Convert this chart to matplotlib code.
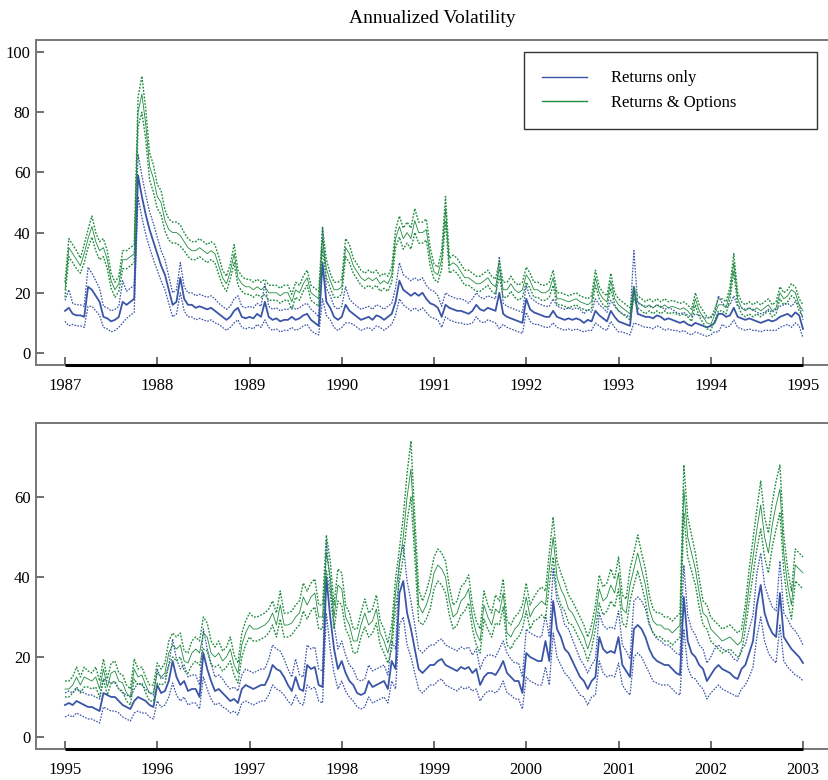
import numpy as np
import matplotlib
matplotlib.use("Agg")
import matplotlib.pyplot as plt

plt.rcParams['font.family'] = ['Liberation Serif', 'DejaVu Serif']

# half-monthly readings (24 per year), 1987-1995 and 1995-2003
top_years = [1987, 1995]
bot_years = [1995, 2003]

# ---- top panel: returns only (blue) ----
top_blue = [
    14, 15, 13, 12.5, 12.5, 12, 22, 21, 19, 17, 12, 11.5, 10.5, 11, 12, 17, 16, 17, 18, 59, 52, 46, 41, 37,
    33, 29, 26, 21, 16, 17, 25, 18, 16, 16, 15, 15.5, 15, 14.5, 15, 14, 13, 12, 11, 12, 14, 15, 12, 11.5,
    12, 11.5, 13, 12, 17, 12, 11, 11.5, 10.5, 11, 11, 12, 11, 11.5, 12.5, 13, 11, 10, 9, 30, 17, 15, 12, 11,
    12, 16, 14, 13, 12, 11, 11.5, 12, 11, 12.5, 12, 11, 12, 13, 17, 24, 21, 20, 19, 20, 19, 20, 18, 16.5,
    16, 15, 12, 16, 15, 14.5, 14, 14, 13.5, 13, 14, 16, 14.5, 14, 15, 14.5, 14, 20, 13, 12, 11.5, 11, 10.5, 10,
    18, 14.5, 13.5, 13, 12.5, 12, 12, 14, 12, 11.5, 11, 11.5, 11, 11.5, 11, 10, 11, 10.5, 14, 12.5, 11.5, 10.5, 14, 12,
    10.5, 10, 9.5, 9, 22, 13, 12.5, 12, 12, 11.5, 12.5, 12, 11, 11.5, 11, 10.5, 10, 10.5, 9.5, 9, 10, 9.5, 9, 8.5,
    9, 10, 13, 13, 12, 12.5, 15, 12, 11.5, 11, 11.5, 11, 10.5, 10, 10.5, 11, 10.5, 11, 12, 12.5, 13, 12, 13.5, 12.5,
    8]
top_blue_band = [
    3.5, 6, 3.5, 3.5, 3.5, 3.5, 6.5, 5.5, 5, 4.5, 3.5, 3.5, 3.5, 3.5, 3.5, 7, 4.5, 4.5, 4.5, 7, 7, 6.5, 6, 6,
    5.5, 5, 5, 4.5, 4, 4, 5, 4, 4, 4, 4, 4, 4, 4, 4, 4, 3.5, 3.5, 3.5, 3.5, 4, 4, 3.5, 3.5,
    3.5, 3.5, 3.5, 3.5, 6, 3.5, 3.5, 3.5, 3.5, 3.5, 3.5, 3.5, 3.5, 3.5, 3.5, 3.5, 3.5, 3.5, 3, 12, 4.5, 4, 3.5, 3.5,
    3.5, 6, 4, 3.5, 3.5, 3.5, 3.5, 3.5, 3.5, 3.5, 3.5, 3.5, 3.5, 3.5, 4.5, 6, 5, 5, 5, 5, 5, 5, 4.5, 4.5,
    4.5, 4, 3.5, 4, 4, 4, 4, 4, 4, 3.5, 4, 4, 4, 4, 4, 4, 4, 12, 3.5, 3.5, 3.5, 3.5, 3.5, 3.5,
    4.5, 4, 4, 3.5, 3.5, 3.5, 3.5, 4, 3.5, 3.5, 3.5, 3.5, 3.5, 3.5, 3.5, 3, 3.5, 3, 4, 3.5, 3.5, 3, 3.5, 3.5,
    3.5, 3, 3, 3, 12, 3.5, 3.5, 3.5, 3.5, 3.5, 3.5, 3.5, 3.5, 3.5, 3.5, 3, 3, 3, 3, 3, 3, 3, 3, 3,
    3, 3, 6, 3.5, 3.5, 3.5, 4, 3.5, 3.5, 3.5, 3.5, 3.5, 3, 3, 3, 3.5, 3, 3.5, 3.5, 3.5, 3.5, 3.5, 3.5, 3.5,
    3]

# ---- top panel: returns & options (green) ----
top_green = [
    21, 35, 33, 31, 29, 33, 38, 42, 37, 34, 35, 31, 24, 21, 23, 31, 31, 32, 33, 80, 86, 76, 62, 58,
    52, 50, 44, 41, 40, 40, 39, 37, 35, 34, 34, 35, 34, 33, 34, 33, 29, 25, 23, 27, 33, 25, 23, 22,
    22, 21, 22, 21, 22, 20, 20, 20, 19, 20, 20, 17, 21, 20, 23, 25, 20, 19, 18, 38, 28, 24, 21, 21,
    22, 35, 33, 29, 27, 25, 24, 25, 24, 25, 23, 24, 23, 26, 38, 42, 38, 40, 38, 44, 40, 40, 41, 32,
    27, 26, 31, 48, 29, 30, 29, 27, 25, 25, 24, 23, 23, 24, 25, 23, 22, 28, 21, 21, 23, 21, 20, 21,
    26, 24, 21, 21, 20, 20, 21, 25, 18, 18, 17.5, 17, 17.5, 18, 17, 16.5, 16, 17, 25, 20, 18, 17, 24, 18,
    16, 15, 14, 13, 20, 17, 16, 15, 16, 15, 16, 15, 16, 15, 15.5, 15, 14.5, 15, 14, 12.5, 18, 14, 12, 10,
    9.5, 12.5, 16, 16, 15, 20, 30, 18, 15, 14, 15, 14, 15, 14, 15, 16, 14, 15, 20, 18, 19, 21, 20, 16,
    14]
top_green_band = [
    2.5, 3, 3, 3, 2.5, 3, 3, 3.5, 3, 3, 3, 3, 2.5, 2.5, 2.5, 3, 3, 3, 3, 5, 6, 5, 4.5, 4.5,
    4, 4, 3.5, 3.5, 3.5, 3.5, 3.5, 3, 3, 3, 3, 3, 3, 3, 3, 3, 3, 2.5, 2.5, 2.5, 3, 2.5, 2.5, 2.5,
    2.5, 2.5, 2.5, 2.5, 2.5, 2.5, 2.5, 2.5, 2.5, 2.5, 2.5, 2.5, 2.5, 2.5, 2.5, 2.5, 2.5, 2.5, 2.5, 3.5, 3, 2.5, 2.5, 2.5,
    2.5, 3, 3, 2.5, 2.5, 2.5, 2.5, 2.5, 2.5, 2.5, 2.5, 2.5, 2.5, 2.5, 3, 3.5, 3.5, 3.5, 3.5, 4, 3.5, 3.5, 3.5, 3,
    2.5, 2.5, 3, 4, 2.5, 2.5, 2.5, 2.5, 2.5, 2.5, 2.5, 2.5, 2.5, 2.5, 2.5, 2.5, 2.5, 2.5, 2.5, 2.5, 2.5, 2.5, 2.5, 2.5,
    2.5, 2.5, 2.5, 2.5, 2.5, 2.5, 2.5, 2.5, 2, 2, 2, 2, 2, 2, 2, 2, 2, 2, 2.5, 2, 2, 2, 2.5, 2,
    2, 2, 2, 2, 2, 2, 2, 2, 2, 2, 2, 2, 2, 2, 2, 2, 2, 2, 2, 2, 2, 2, 2, 2,
    2, 2, 2, 2, 2, 2, 3, 2, 2, 2, 2, 2, 2, 2, 2, 2, 2, 2, 2, 2, 2, 2, 2, 2,
    2]

# ---- bottom panel: returns only (blue) ----
bot_blue = [
    8, 8.5, 8, 9, 8.5, 8, 7.5, 7.5, 7, 6.5, 11, 10.5, 10, 10, 9, 8, 7.5, 7, 9, 10, 9.5, 9, 8, 7.5,
    13, 11, 11.5, 14, 19, 15, 13, 14, 11.5, 12, 12, 10, 21, 17, 14, 11.5, 12, 11, 10, 9, 9.5, 8.5, 12, 13,
    12.5, 12, 12.5, 13, 13, 15, 18, 17, 16.5, 15, 13, 11.5, 15, 12, 11.5, 18, 17, 17.5, 13, 12.5, 40, 30, 22, 17,
    19, 16, 14, 13, 11, 10.5, 11, 14, 12.5, 13, 13.5, 14, 12, 19, 17, 36, 39, 31, 27, 22, 17, 16, 17, 18,
    18, 19, 19.5, 18, 17.5, 17, 16.5, 17.5, 17, 17.5, 16, 17, 13, 15, 16, 16, 15.5, 17, 19, 16, 15, 14, 14, 11,
    21, 20, 19.5, 19, 19, 24, 19, 34, 27, 25, 22, 21, 19, 17, 15, 14, 12, 14, 15, 25, 22, 21, 21.5, 21,
    25, 18, 16.5, 15, 27, 28, 27, 25, 22, 20, 19, 18.5, 18, 18, 17, 16, 15.5, 35, 24, 21, 20, 18, 17, 14,
    15.5, 17, 18, 17, 16.5, 16, 15, 14.5, 17, 18, 21, 24, 33, 38, 31, 28, 26, 25, 36, 25, 23.5, 22, 21, 20,
    18.5]
bot_blue_band = [
    3, 3, 3, 3, 3, 3, 3, 3, 3, 3, 3.5, 3.5, 3.5, 3.5, 3, 3, 3, 3, 3, 3.5, 3.5, 3, 3, 3,
    4, 3.5, 3.5, 4, 5.5, 4.5, 4, 4, 3.5, 3.5, 3.5, 3, 6, 5, 4.5, 3.5, 3.5, 3.5, 3, 3, 3, 3, 3.5, 4,
    4, 4, 4, 4, 4, 4.5, 5, 5, 5, 4.5, 4, 3.5, 4.5, 3.5, 3.5, 5, 5, 5, 4, 4, 9, 8, 6, 5,
    5, 4.5, 4, 4, 3.5, 3.5, 3.5, 4, 4, 4, 4, 4, 3.5, 5, 5, 8, 9, 8, 7, 6, 5, 5, 5, 5,
    5, 5, 5, 5, 5, 5, 5, 5, 5, 5, 4.5, 5, 4, 4.5, 4.5, 4.5, 4.5, 5, 5, 5, 4.5, 4.5, 4.5, 4,
    6, 6, 6, 6, 6, 6.5, 6, 8, 7, 7, 6, 6, 5.5, 5, 4.5, 4, 4, 4, 4.5, 6, 6, 6, 6, 6,
    6.5, 5, 5, 4.5, 7, 7, 7, 7, 6, 6, 5.5, 5.5, 5, 5, 5, 5, 5, 8, 6.5, 6, 5.5, 5, 5, 4.5,
    4.5, 5, 5, 5, 5, 5, 4.5, 4.5, 5, 5, 6, 6.5, 8, 8, 7, 7, 6.5, 6.5, 8, 6, 6, 5.5, 5.5, 5,
    4.5]

# ---- bottom panel: returns & options (green) ----
bot_green = [
    12, 12, 13, 15, 13, 15, 14.5, 14, 15, 12, 17, 12.5, 16, 16.5, 14, 13.5, 11, 10, 17, 15, 15.5, 13, 11, 11,
    16, 15, 16, 21, 23, 22, 23, 19, 18.5, 21, 22, 21, 26, 25, 21, 20, 21, 19, 20, 22, 18, 16, 23, 26,
    28, 27, 27, 27.5, 28, 29, 31, 28, 33, 28, 28, 28.5, 30, 31, 35, 33, 35, 36, 30, 30, 46, 40, 30, 38,
    37, 30, 28, 24, 24, 28, 31, 28, 29, 32, 26, 24, 21, 25, 36, 43, 50, 60, 67, 50, 33, 31, 33, 36,
    41, 43, 42, 40, 34, 30, 31, 34, 35, 37, 30, 26, 24, 33, 30, 28, 32, 31, 36, 26, 25, 27, 28, 30,
    35, 30, 32, 33, 34, 33, 42, 50, 40, 37, 35, 32, 31, 29, 27, 25, 22, 25, 30, 37, 34, 35, 38, 36,
    41, 32, 31, 38, 42, 46, 42, 38, 32, 29, 28, 28, 27, 27, 26, 27, 28, 62, 50, 46, 42, 36, 31, 30,
    27, 26, 25, 24, 24.5, 25, 24, 23, 24, 30, 38, 45, 52, 58, 50, 46, 53, 58, 62, 46, 38, 33, 43, 42,
    41]
bot_green_band = [
    2, 2, 2, 2.5, 2, 2.5, 2, 2, 2.5, 2, 2.5, 2, 2.5, 2.5, 2, 2, 2, 2, 2.5, 2, 2, 2, 2, 2,
    2.5, 2, 2.5, 3, 3, 3, 3, 2.5, 2.5, 3, 3, 3, 4, 3.5, 3, 2.5, 3, 2.5, 2.5, 3, 2.5, 2.5, 3, 3,
    3, 3, 3, 3, 3, 3, 3, 3, 3.5, 3, 3, 3, 3, 3, 3.5, 3.5, 3.5, 3.5, 3, 3, 4.5, 4, 3, 4,
    4, 3, 3, 3, 3, 3, 3.5, 3, 3, 3.5, 3, 3, 2.5, 3, 3.5, 4, 5, 6, 7, 5, 4, 3, 3.5, 4,
    4, 4, 4, 4, 3.5, 3, 3, 3.5, 3.5, 3.5, 3, 3, 3, 3.5, 3, 3, 3.5, 3, 3.5, 3, 3, 3, 3, 3,
    3.5, 3, 3, 3.5, 3.5, 3.5, 4, 5, 4, 4, 3.5, 3.5, 3, 3, 3, 3, 3, 3, 3, 3.5, 3.5, 3.5, 4, 3.5,
    4, 3.5, 3.5, 4, 4, 4.5, 4, 4, 3.5, 3, 3, 3, 3, 3, 3, 3, 3, 6, 5, 4.5, 4, 3.5, 3, 3,
    3, 3, 3, 3, 3, 3, 3, 3, 3, 3, 4, 4.5, 5, 6, 5, 5, 5.5, 6, 6, 4.5, 4, 3.5, 4, 4,
    4]

BLUE = '#3a55a8'
GREEN = '#1f8b3f'
SPINE = '#555555'

fig = plt.figure(figsize=(8.29, 7.80), dpi=100)
ax1 = fig.add_axes([36 / 829, 1 - 365 / 780, 1 - 36 / 829, 325 / 780])
ax2 = fig.add_axes([36 / 829, 1 - 749 / 780, 1 - 36 / 829, 326 / 780])

panels = [
    (ax1, top_years, top_blue, top_blue_band, top_green, top_green_band, (-4, 104), [0, 20, 40, 60, 80, 100]),
    (ax2, bot_years, bot_blue, bot_blue_band, bot_green, bot_green_band, (-3, 78.5), [0, 20, 40, 60]),
]

for ax, yrs, b, bw, g, gw, ylim, yt in panels:
    t = yrs[0] + np.arange(len(b)) / 24.0
    b, bw, g, gw = map(np.asarray, (b, bw, g, gw))

    ax.plot(t, b + bw, color=BLUE, lw=0.9, ls=(0, (1.3, 1.1)))
    ax.plot(t, b - bw, color=BLUE, lw=0.9, ls=(0, (1.3, 1.1)))
    lb, = ax.plot(t, b, color=BLUE, lw=1.3)
    ax.plot(t, g + gw, color=GREEN, lw=1.0, ls=(0, (1.3, 1.1)))
    ax.plot(t, g - gw, color=GREEN, lw=1.0, ls=(0, (1.3, 1.1)))
    lg, = ax.plot(t, g, color=GREEN, lw=0.6)

    ax.set_xlim(yrs[0] - 29 / 92.25, yrs[0] - 29 / 92.25 + 793 / 92.25)
    ax.set_ylim(*ylim)
    ax.set_yticks(yt)
    ax.set_xticks(range(yrs[0], yrs[1] + 1))
    ax.tick_params(direction='in', length=6, width=1.2, color=SPINE, labelsize=12)
    ax.tick_params(axis='x', pad=9)
    ax.tick_params(axis='y', pad=4)
    ax.spines['right'].set_visible(False)
    for s in ('top', 'left', 'bottom'):
        ax.spines[s].set_color('#777777')
        ax.spines[s].set_linewidth(1.4)
    # dark baseline between first and last year tick
    ax.plot([yrs[0], yrs[1]], [ylim[0], ylim[0]], color='black', lw=2.2, clip_on=False,
            solid_capstyle='butt', zorder=5)

ax1.set_title('Annualized Volatility', fontsize=14, pad=12)

leg = ax1.legend([lb, lg], ['Returns only', 'Returns & Options'],
                 loc='upper left', bbox_to_anchor=(524 / 829, 1 - 52 / 780, 293 / 829, 0.0),
                 bbox_transform=fig.transFigure, mode='expand',
                 fontsize=12, frameon=True, fancybox=False, edgecolor='black',
                 handlelength=2.7, handletextpad=1.4, labelspacing=0.5, borderpad=1.1,
                 borderaxespad=0)
leg.get_frame().set_linewidth(1.0)
for h in leg.get_lines():
    h.set_linewidth(1.0)

fig.savefig('out.png', dpi=100)
